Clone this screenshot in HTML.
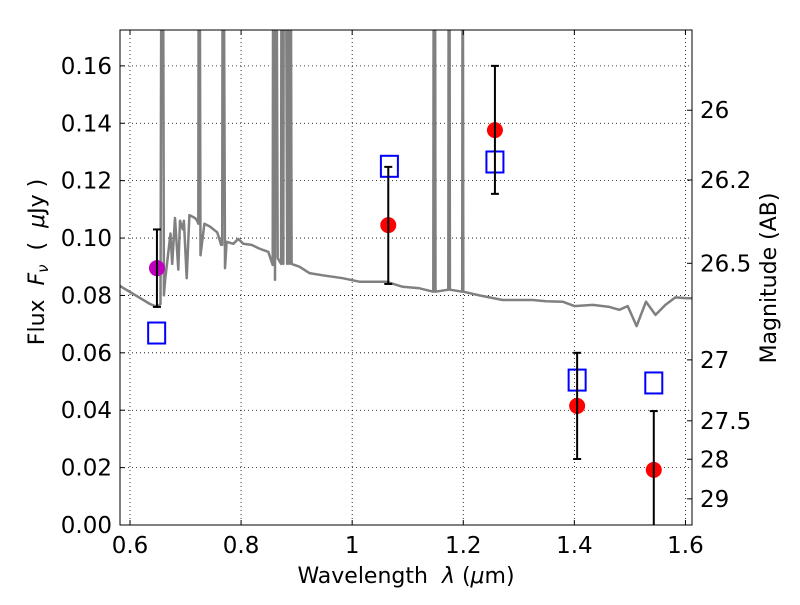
<!DOCTYPE html>
<html><head><meta charset="utf-8"><style>
body{margin:0;background:#fff;}
svg text{font-family:"DejaVu Sans","Liberation Sans",sans-serif;fill:#000;}
</style></head><body>
<svg id="chart" width="800" height="600" xmlns="http://www.w3.org/2000/svg">
<defs><clipPath id="clip"><rect x="120" y="30" width="572" height="495"/></clipPath></defs>
<g id="grid"></g>
<g id="spec" clip-path="url(#clip)"></g>
<g id="marks" clip-path="url(#clip)"></g>
<rect x="120" y="30" width="572" height="495" fill="none" stroke="#000" stroke-width="1"/>
<g id="axes"></g>
<text x="406" y="583" font-size="22" text-anchor="middle" xml:space="preserve">Wavelength  <tspan font-style="italic">λ</tspan> (<tspan font-style="italic">μ</tspan>m)</text>
<text transform="translate(44,262) rotate(-90)" font-size="22" text-anchor="middle" xml:space="preserve">Flux  <tspan font-style="italic">F</tspan><tspan font-style="italic" font-size="15" dy="4">ν</tspan><tspan dy="-4">  (  </tspan><tspan font-style="italic">μ</tspan>Jy )</text>
<text transform="translate(776,278) rotate(-90)" font-size="22" text-anchor="middle">Magnitude (AB)</text>
</svg>
<script>
const xTicks=[0.6,0.8,1,1.2,1.4,1.6];
const xTickLabels=["0.6","0.8","1","1.2","1.4","1.6"];
const yTicks=[0,0.02,0.04,0.06,0.08,0.1,0.12,0.14,0.16];
const yTickLabels=["0.00","0.02","0.04","0.06","0.08","0.10","0.12","0.14","0.16"];
const magTicks=[26,26.2,26.5,27,27.5,28,29];
const magTickLabels=["26","26.2","26.5","27","27.5","28","29"];
const specLambda=[0.582,0.636,0.649,0.655,0.657,0.659,0.661,0.663,0.673,0.676,0.681,0.687,0.690,0.695,0.697,0.702,0.707,0.717,0.721,0.723,0.724,0.725,0.727,0.734,0.744,0.757,0.764,0.766,0.767,0.768,0.771,0.774,0.786,0.795,0.804,0.819,0.831,0.840,0.849,0.857,0.858,0.859,0.861,0.862,0.863,0.866,0.872,0.873,0.876,0.877,0.880,0.883,0.885,0.887,0.889,0.891,0.905,0.923,0.947,0.983,1.013,1.061,1.091,1.121,1.146,1.147,1.149,1.150,1.173,1.174,1.175,1.176,1.198,1.199,1.200,1.229,1.271,1.325,1.349,1.379,1.400,1.433,1.463,1.481,1.496,1.512,1.529,1.546,1.564,1.582,1.603,1.612];
const specFlux=[0.0833,0.077,0.076,0.077,0.25,0.25,0.080,0.085,0.1016,0.091,0.107,0.089,0.106,0.103,0.106,0.086,0.108,0.107,0.106,0.105,0.25,0.25,0.094,0.105,0.104,0.102,0.0976,0.0976,0.25,0.25,0.0895,0.0987,0.098,0.0997,0.098,0.0976,0.0965,0.0958,0.0952,0.0906,0.25,0.25,0.0854,0.25,0.25,0.093,0.091,0.25,0.091,0.25,0.25,0.091,0.25,0.091,0.25,0.091,0.090,0.0878,0.087,0.086,0.0848,0.0848,0.083,0.0825,0.0813,0.25,0.25,0.0813,0.082,0.25,0.25,0.082,0.0813,0.25,0.0813,0.080,0.0784,0.0784,0.078,0.0778,0.0763,0.0767,0.076,0.075,0.0763,0.0693,0.0778,0.0732,0.0767,0.0793,0.079,0.079];
const obsLambda=[1.065,1.257,1.405,1.543];
const obsFlux=[0.1045,0.1376,0.0415,0.0192];
const obsErrLow=[0.084,0.1154,0.023,-0.01];
const obsErrHigh=[0.1248,0.160,0.060,0.0397];
const limLambda=[0.6485];
const limFlux=[0.0895];
const limErrLow=[0.076];
const limErrHigh=[0.103];
const modelLambda=[0.648,1.067,1.257,1.405,1.543];
const modelFlux=[0.0669,0.125,0.1265,0.0505,0.0495];

const NS="http://www.w3.org/2000/svg";
const X0=120,X1=692,Y0=525,Y1=30,LMIN=0.582,LMAX=1.6118,FMIN=0,FMAX=0.1725;
function xs(l){return X0+(l-LMIN)/(LMAX-LMIN)*(X1-X0);}
function ys(f){return Y0-(f-FMIN)/(FMAX-FMIN)*(Y0-Y1);}
function mag2f(m){return Math.pow(10,(23.9-m)/2.5);}
function mk(tag,attrs,parent){const e=document.createElementNS(NS,tag);for(const k in attrs)e.setAttribute(k,attrs[k]);parent.appendChild(e);return e;}
const grid=document.getElementById('grid'),axes=document.getElementById('axes'),spec=document.getElementById('spec'),marks=document.getElementById('marks');
xTicks.forEach((t,i)=>{const x=xs(t);
 const g=mk('line',{x1:x,x2:x,y1:Y1,y2:Y0,stroke:'#000','stroke-width':0.8,'stroke-dasharray':'1,3'},grid);
 
 const a=mk('line',{x1:x,x2:x,y1:Y0,y2:Y0-5,stroke:'#000'},axes);
 const b=mk('line',{x1:x,x2:x,y1:Y1,y2:Y1+5,stroke:'#000'},axes);
 const tx=mk('text',{x:x,y:553,'font-size':23,'text-anchor':'middle'},axes);tx.textContent=xTickLabels[i];
 });
yTicks.forEach((t,i)=>{const y=ys(t);
 const g=mk('line',{x1:X0,x2:X1,y1:y,y2:y,stroke:'#000','stroke-width':0.8,'stroke-dasharray':'1,3'},grid);
 
 const a=mk('line',{x1:X0,x2:X0+5,y1:y,y2:y,stroke:'#000'},axes);
 const tx=mk('text',{x:112,y:y+8,'font-size':23,'text-anchor':'end'},axes);tx.textContent=yTickLabels[i];
 });
magTicks.forEach((m,i)=>{const y=ys(mag2f(m));
 const a=mk('line',{x1:X1,x2:X1-5,y1:y,y2:y,stroke:'#000'},axes);
 const tx=mk('text',{x:700,y:y+8,'font-size':23,'text-anchor':'start'},axes);tx.textContent=magTickLabels[i];
 });
const pts=specLambda.map((l,i)=>xs(l).toFixed(1)+','+ys(specFlux[i]).toFixed(1)).join(' ');
const pl=mk('polyline',{points:pts,fill:'none',stroke:'#808080','stroke-width':2.5,'stroke-linejoin':'round'},spec);

function errbar(l,lo,hi){const x=xs(l),y1=Math.min(ys(lo),530),y2=ys(hi);
 const e=mk('line',{x1:x,x2:x,y1:y1,y2:y2,stroke:'#000','stroke-width':2},marks);
 [y1,y2].forEach(y=>{if(y<526){const c=mk('line',{x1:x-4,x2:x+4,y1:y,y2:y,stroke:'#000','stroke-width':2},marks);}});}
modelLambda.forEach((l,i)=>{const r=mk('rect',{x:xs(l)-8.5,y:ys(modelFlux[i])-10.5,width:17,height:21,fill:'none',stroke:'#0000ff','stroke-width':2},marks);
 });
limLambda.forEach((l,i)=>{const c=mk('circle',{cx:xs(l),cy:ys(limFlux[i]),r:8,fill:'#bf00bf'},marks);
 errbar(l,limErrLow[i],limErrHigh[i]);});
obsLambda.forEach((l,i)=>{const c=mk('circle',{cx:xs(l),cy:ys(obsFlux[i]),r:8,fill:'#ff0000'},marks);
 errbar(l,obsErrLow[i],obsErrHigh[i]);});
</script>
</body></html>
